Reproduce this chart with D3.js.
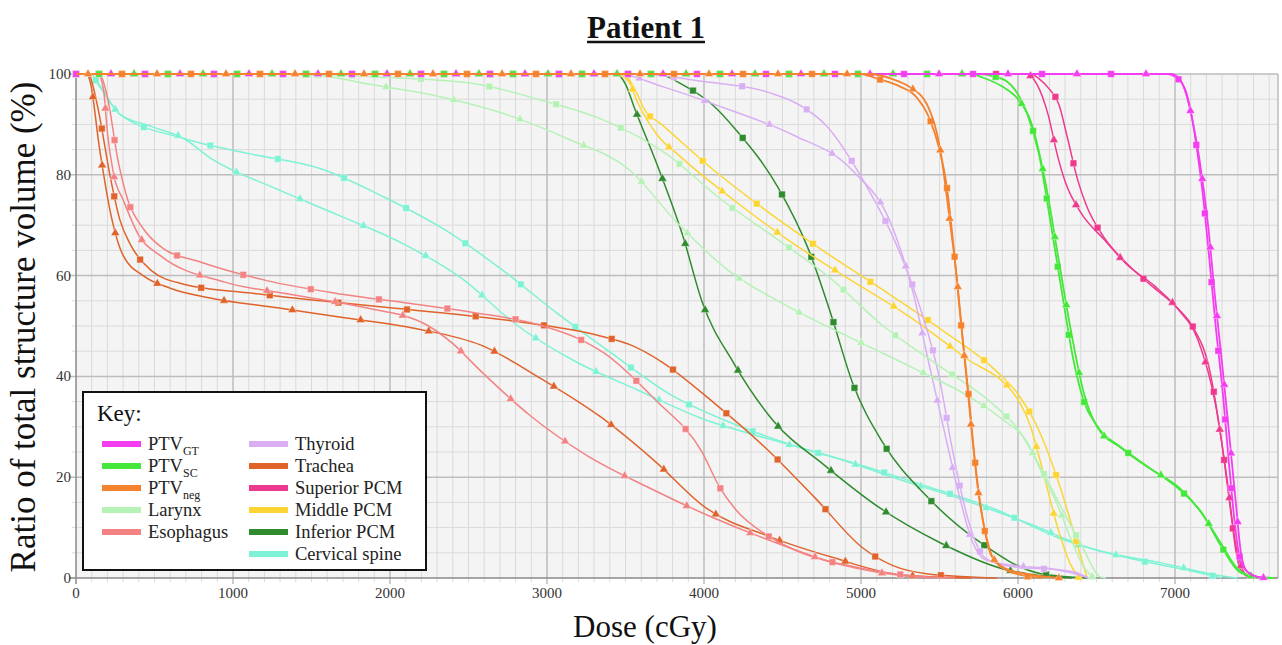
<!DOCTYPE html>
<html>
<head>
<meta charset="utf-8">
<script src="https://cdn.jsdelivr.net/npm/d3@7"></script>
<style>
  body { margin: 0; background: #fff; }
  text { font-family: "Liberation Serif", "Times New Roman", serif; }
</style>
</head>
<body>
<div id="chart"></div>
<script>
// Dose ticks / volume ticks
const doseTicks = [0, 1000, 2000, 3000, 4000, 5000, 6000, 7000];
const volTicks = [0, 20, 40, 60, 80, 100];

// Structure names (legend), with subscripts for PTVs
const structNames = ["PTV", "PTV", "PTV", "Larynx", "Esophagus", "Thyroid", "Trachea",
  "Superior PCM", "Middle PCM", "Inferior PCM", "Cervical spine"];
const structSubs = ["GT", "SC", "neg", "", "", "", "", "", "", "", ""];

// DVH curves [dose cGy, volume %] -- square-marker plan and triangle-marker plan
const ptvGtSq = [[0,100],[6950,100],[7020,99],[7070,96.5],[7110,91],[7140,85],[7173,77.2],[7218,63.5],[7260,49.7],[7307,35.9],[7340,24],[7370,14],[7400,6],[7440,2],[7500,0.5],[7560,0]];
const ptvGtTri = [[0,100],[6970,100],[7030,99],[7063,96.8],[7110,91],[7154,83.4],[7212,69.6],[7254,56],[7301,42.2],[7345,28.5],[7388,14.7],[7420,5],[7460,1.2],[7520,0.3],[7580,0]];

const ptvScSq = [[0,100],[5750,100],[5850,99.5],[5930,98.5],[5980,96.9],[6060,92],[6133,84.2],[6207,70.6],[6278,57],[6352,43.4],[6420,35],[6496,30.5],[6666,25.7],[6840,21.8],[7027,17.6],[7169,13],[7300,6],[7407,1.3],[7500,0.3],[7626,0]];
const ptvScTri = [[0,100],[5700,100],[5774,99.3],[5900,97.5],[6000,95],[6080,90.7],[6182,77.3],[6256,63.7],[6331,50.1],[6420,36.6],[6500,30.2],[6666,25.6],[6840,21.7],[7027,17.9],[7169,12.9],[7292,6.9],[7400,1.8],[7500,0.3],[7626,0]];

const ptvNegSq = [[0,100],[5000,100],[5099,99.1],[5250,97.5],[5350,95.5],[5434,91.3],[5500,85],[5545,78],[5594,64.4],[5636,50.7],[5683,37.1],[5725,23.5],[5785,9.9],[5830,4.5],[5950,1.2],[6150,0]];
const ptvNegTri = [[0,100],[5050,100],[5200,99],[5311,97.4],[5420,94],[5502,85.5],[5562,71.8],[5615,58.2],[5657,44.4],[5700,30.7],[5747,17.1],[5800,8],[5842,3.9],[5950,1.5],[6261,0]];

const larynxSq = [[0,100],[1400,100],[2000,99.3],[2529,98.1],[2952,94.9],[3373,90.7],[3763,84.1],[4097,75.4],[4458,67.4],[4812,59.3],[5141,50],[5498,42.1],[5859,34],[6000,29.5],[6123,23.1],[6288,13.3],[6405,6.5],[6526,0.2],[6560,0]];
const larynxTri = [[0,100],[1300,100],[1600,99.5],[1862,98],[2290,95.7],[2718,92.2],[3134,87.1],[3524,81],[3826,70.6],[4144,61.3],[4522,54.1],[4919,47.9],[5318,41.9],[5704,35.7],[5900,31.5],[6055,27.1],[6150,21],[6246,14.9],[6340,7.5],[6415,2.4],[6480,0]];

const esophSq = [[0,100],[150,100],[195,96.1],[271,82.3],[330,75],[422,69.6],[550,65.5],[792,62.7],[1215,59],[1653,56.5],[2094,54.6],[2529,52.7],[2965,50.1],[3200,47.5],[3365,44.6],[3688,35.4],[3985,25.1],[4100,18],[4207,13.4],[4400,8.5],[4568,5.7],[4993,2],[5428,0.2],[5600,0]];
const esophTri = [[0,100],[140,100],[175,97],[200,88.4],[240,80],[301,75],[400,68],[540,63.9],[948,58.7],[1379,56.2],[1817,53.8],[2240,50.1],[2400,46.5],[2567,41.4],[2894,32.2],[3255,24.3],[3650,17.9],[4048,12.1],[4458,7],[4876,2.6],[5311,0.3],[5450,0]];

const thyroidSq = [[0,100],[3600,100],[3970,98.6],[4405,96.4],[4600,94],[4781,89.7],[5025,78.3],[5226,66.1],[5381,53.2],[5498,39.9],[5577,26.3],[5672,12.7],[5790,4],[5917,2.5],[6350,1.25],[6450,0]];
const thyroidTri = [[0,100],[3450,100],[3745,97.4],[4161,92.9],[4568,87.9],[4944,80.9],[5199,69.7],[5333,56.5],[5428,43.2],[5528,29.5],[5626,16.3],[5700,8],[5794,3.6],[6000,2.4],[6223,1.8],[6400,0.5],[6450,0]];

const tracheaSq = [[0,100],[80,100],[100,98.5],[142,92.9],[220,79.3],[280,71],[346,66.2],[480,61],[686,58.3],[1124,56.5],[1560,55],[2000,53.6],[2436,52.3],[2877,50.6],[3315,48.2],[3550,46],[3720,43.1],[4069,34.6],[4403,25.5],[4713,15.7],[5014,5.9],[5200,2.5],[5428,0.8],[5865,0]];
const tracheaTri = [[0,100],[70,100],[90,98.5],[150,85.2],[225,71.7],[300,64],[432,59.9],[600,57.5],[847,55.6],[1283,53.6],[1721,51.6],[2162,49.5],[2587,46.1],[2970,39.4],[3340,32],[3683,23.3],[4012,13.9],[4409,8.3],[4827,4],[5258,0.6],[5698,0]];

const supPcmSq = [[0,100],[6080,100],[6133,99.1],[6200,97],[6260,94],[6316,87.2],[6380,79],[6437,73.8],[6550,67.5],[6687,62.6],[6850,58],[7021,53.4],[7120,49.5],[7218,41.6],[7292,28.1],[7350,14.4],[7390,5],[7420,1.5],[7480,0]];
const supPcmTri = [[0,100],[6050,100],[6120,98],[6193,91.8],[6250,84],[6303,78.4],[6400,72.5],[6547,67.2],[6700,62],[6872,57.9],[7020,53.3],[7144,47.4],[7260,34.1],[7328,20.4],[7388,6.4],[7456,0.5],[7500,0]];

const midPcmSq = [[0,100],[3480,100],[3560,97],[3620,93],[3730,90],[4059,81],[4409,72.6],[4770,64.7],[5137,57.2],[5502,49.5],[5857,41.2],[6000,36.5],[6118,30.3],[6273,17.6],[6398,4.4],[6440,0]];
const midPcmTri = [[0,100],[3440,100],[3520,98.5],[3581,94.1],[3700,88],[3853,83.5],[4197,74.8],[4553,66.7],[4925,59.3],[5301,52],[5650,44],[6001,35.3],[6080,30],[6140,23.4],[6261,9.1],[6330,3],[6390,0]];

const infPcmSq = [[0,100],[3700,100],[3874,97.7],[4050,94],[4212,88.6],[4473,77.4],[4668,65],[4812,52],[4944,38.9],[5142,26.7],[5422,16.1],[5753,7.2],[6140,0.9],[6450,0]];
const infPcmTri = [[0,100],[3440,100],[3500,98],[3554,93.5],[3715,80.9],[3864,68],[3989,54.7],[4190,42.6],[4441,31.2],[4770,22.3],[5120,13.9],[5498,7.1],[5906,1.8],[6343,0]];

const cspineSq = [[0,100],[90,100],[150,97.5],[276,92.1],[686,87.2],[1119,84.1],[1550,81.3],[1955,75.7],[2343,69.2],[2708,61.3],[3053,52.8],[3411,44.6],[3770,36.7],[4171,30.8],[4590,26.1],[5010,22.3],[5428,18.1],[5850,13.7],[6256,8],[6670,4.2],[7105,1.4],[7300,0]];
const cspineTri = [[0,100],[90,100],[150,97.8],[276,92.1],[480,89.6],[686,87.2],[867,83.1],[1270,77.3],[1678,71.9],[2079,66.4],[2459,59.4],[2794,50.5],[3166,43.2],[3570,37.4],[3974,31.8],[4399,27.7],[4822,24],[5241,19.6],[5662,15.4],[6076,10.7],[6479,5.7],[6914,3],[7345,0.2],[7400,0]];

const squareCurves = [ptvGtSq, ptvScSq, ptvNegSq, larynxSq, esophSq, thyroidSq, tracheaSq, supPcmSq, midPcmSq, infPcmSq, cspineSq];
const triangleCurves = [ptvGtTri, ptvScTri, ptvNegTri, larynxTri, esophTri, thyroidTri, tracheaTri, supPcmTri, midPcmTri, infPcmTri, cspineTri];

const colors = ["#f43cf0", "#45e83a", "#f5822e", "#b6f2b6", "#f38383", "#d9aef2",
  "#df632b", "#ee3a8e", "#fcd535", "#2e8b2e", "#7df2d4"];

const ctx = {
  w: 1282,
  h: 645,
  left: 76,
  right: 1278,
  top: 74,
  bottom: 578,
  doseMax: 7656,
  markerGap: 69
};

function createViz() {
  const svg = d3.select("#chart").append("svg")
    .attr("width", ctx.w)
    .attr("height", ctx.h);

  const x = d3.scaleLinear().domain([0, ctx.doseMax]).range([ctx.left, ctx.right]);
  const y = d3.scaleLinear().domain([0, 100]).range([ctx.bottom, ctx.top]);

  // plot background
  svg.append("rect")
    .attr("x", ctx.left).attr("y", ctx.top)
    .attr("width", ctx.right - ctx.left).attr("height", ctx.bottom - ctx.top)
    .attr("fill", "#f4f4f4");

  // minor grid
  const minorX = d3.range(100, ctx.doseMax, 100).filter(d => d % 1000 !== 0);
  const minorY = d3.range(5, 100, 5).filter(d => d % 20 !== 0);
  svg.append("g").selectAll("line").data(minorX).join("line")
    .attr("x1", d => x(d)).attr("x2", d => x(d))
    .attr("y1", ctx.top).attr("y2", ctx.bottom + 4)
    .attr("stroke", "#dadada").attr("stroke-width", 1);
  svg.append("g").selectAll("line").data(minorY).join("line")
    .attr("x1", ctx.left - 4).attr("x2", ctx.right)
    .attr("y1", d => y(d)).attr("y2", d => y(d))
    .attr("stroke", "#dadada").attr("stroke-width", 1);

  // major grid
  svg.append("g").selectAll("line").data(doseTicks.filter(d => d > 0)).join("line")
    .attr("x1", d => x(d)).attr("x2", d => x(d))
    .attr("y1", ctx.top).attr("y2", ctx.bottom + 6)
    .attr("stroke", "#bdbdbd").attr("stroke-width", 1.5);
  svg.append("g").selectAll("line").data(volTicks.filter(d => d > 0)).join("line")
    .attr("x1", ctx.left - 6).attr("x2", ctx.right)
    .attr("y1", d => y(d)).attr("y2", d => y(d))
    .attr("stroke", "#bdbdbd").attr("stroke-width", 1.5);
  svg.append("line")
    .attr("x1", ctx.right).attr("x2", ctx.right)
    .attr("y1", ctx.top).attr("y2", ctx.bottom)
    .attr("stroke", "#bdbdbd").attr("stroke-width", 1.5);

  // axis lines
  svg.append("line")
    .attr("x1", ctx.left).attr("x2", ctx.left)
    .attr("y1", ctx.top).attr("y2", ctx.bottom + 6)
    .attr("stroke", "#8a8a8a").attr("stroke-width", 1.5);
  svg.append("line")
    .attr("x1", ctx.left - 6).attr("x2", ctx.right)
    .attr("y1", ctx.bottom).attr("y2", ctx.bottom)
    .attr("stroke", "#8a8a8a").attr("stroke-width", 1.5);

  // tick labels
  svg.append("g").selectAll("text").data(doseTicks).join("text")
    .attr("x", d => x(d)).attr("y", ctx.bottom + 20)
    .attr("text-anchor", "middle")
    .attr("font-size", 15).attr("fill", "#333")
    .text(d => d);
  svg.append("g").selectAll("text").data(volTicks).join("text")
    .attr("x", ctx.left - 5).attr("y", d => y(d) + 5)
    .attr("text-anchor", "end")
    .attr("font-size", 15).attr("fill", "#333")
    .text(d => d);

  // curves
  const line = d3.line()
    .x(d => x(d[0]))
    .y(d => y(d[1]))
    .curve(d3.curveMonotoneX);

  // PTV_neg last so the shared 100% plateau reads orange, as in the original
  const drawOrder = [10, 9, 8, 7, 6, 5, 4, 3, 1, 0, 2];
  const curvesG = svg.append("g");
  drawOrder.forEach(i => {
    [[squareCurves[i], d3.symbolSquare, 44, (i * 23) % ctx.markerGap],
     [triangleCurves[i], d3.symbolTriangle, 34, (i * 23 + 35) % ctx.markerGap]]
    .forEach(([data, shape, size, offset]) => {
      const path = curvesG.append("path")
        .datum(data)
        .attr("fill", "none")
        .attr("stroke", colors[i])
        .attr("stroke-width", i < 3 ? 1.8 : 1.5)
        .attr("d", line);
      addMarkers(curvesG, path.node(), shape, size, colors[i], offset);
    });
  });

  drawLegend(svg);
  drawTitles(svg);
}

function addMarkers(g, node, shape, size, color, offset) {
  const total = node.getTotalLength();
  const pts = [];
  for (let l = offset; l <= total; l += ctx.markerGap) pts.push(node.getPointAtLength(l));
  g.append("g").selectAll("path").data(pts).join("path")
    .attr("transform", p => `translate(${p.x},${p.y})`)
    .attr("d", d3.symbol(shape, size))
    .attr("fill", color)
    .attr("stroke", "#fff")
    .attr("stroke-opacity", 0.6)
    .attr("stroke-width", 0.6);
}

function drawLegend(svg) {
  const lg = svg.append("g");
  lg.append("rect")
    .attr("x", 83).attr("y", 392)
    .attr("width", 343).attr("height", 178)
    .attr("fill", "#fff").attr("stroke", "#111").attr("stroke-width", 2);
  lg.append("text")
    .attr("x", 97).attr("y", 421)
    .attr("font-size", 23).attr("fill", "#111")
    .text("Key:");

  const col = i => i < 5 ? 0 : 1;
  const row = i => i < 5 ? i : i - 5;
  const items = lg.selectAll("g.item").data(structNames).join("g")
    .attr("class", "item")
    .attr("transform", (d, i) => `translate(${col(i) ? 249 : 102},${450 + row(i) * 22})`);
  items.append("rect")
    .attr("x", 0).attr("y", -9)
    .attr("width", 39).attr("height", 6)
    .attr("fill", (d, i) => colors[i]);
  const t = items.append("text")
    .attr("x", 46).attr("y", 0)
    .attr("font-size", 18.5).attr("fill", "#222");
  t.append("tspan").text(d => d);
  t.filter((d, i) => structSubs[i] !== "")
    .append("tspan")
    .attr("dy", 5)
    .attr("font-size", 12)
    .text((d, i) => structSubs[i]);
}

function drawTitles(svg) {
  const title = svg.append("text")
    .attr("x", 646).attr("y", 38)
    .attr("text-anchor", "middle")
    .attr("font-size", 31).attr("font-weight", "bold").attr("fill", "#111")
    .text("Patient 1");
  const bb = title.node().getBBox();
  svg.append("line")
    .attr("x1", bb.x).attr("x2", bb.x + bb.width)
    .attr("y1", 42).attr("y2", 42)
    .attr("stroke", "#111").attr("stroke-width", 2.5);

  svg.append("text")
    .attr("transform", `translate(35,${(ctx.top + ctx.bottom) / 2 + 1}) rotate(-90)`)
    .attr("text-anchor", "middle")
    .attr("font-size", 35).attr("fill", "#111")
    .text("Ratio of total structure volume (%)");

  svg.append("text")
    .attr("x", 645).attr("y", 637)
    .attr("text-anchor", "middle")
    .attr("font-size", 31).attr("fill", "#111")
    .text("Dose (cGy)");
}

document.addEventListener("DOMContentLoaded", function () {
  createViz();
});
</script>
</body>
</html>
